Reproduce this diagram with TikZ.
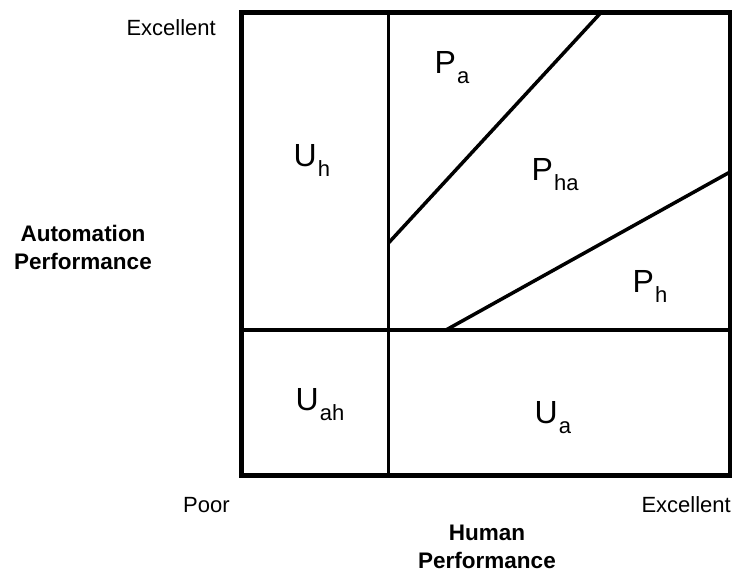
\documentclass[tikz,border=0pt]{standalone}
\usepackage{fontspec}
\setmainfont{Liberation Sans}
\usetikzlibrary{positioning,calc}
\newcommand\regionlab[2]{#1\kern1pt\raisebox{-10pt}{\fontsize{22}{22}\selectfont #2}}

\begin{document}
\begin{tikzpicture}[x=1pt,y=-1pt,
  frame/.style={line width=4.4pt,line join=miter},
  divider/.style={line width=3.5pt},
  region/.style={font=\fontsize{32}{32}\selectfont,inner sep=0pt,anchor=base west},
  scale label/.style={font=\fontsize{22}{22}\selectfont,inner sep=0pt},
  axis title/.style={font=\fontsize{22.5}{28}\selectfont\bfseries,align=center,inner sep=0pt,anchor=base}]
\useasboundingbox (0,0) rectangle (737,573);
% corners of the chart
\coordinate (nw) at (241.5,12.5);
\coordinate (se) at (730,475.5);
\coordinate (midtop) at (388.5,12.5);
\coordinate (midbot) at (388.5,475.5);
\coordinate (left) at (241.5,330);
\coordinate (right) at (730,330);
\coordinate (pa1) at (388.5,243);
\coordinate (pa2) at (601,12.5);
\coordinate (ph1) at (446,330);
\coordinate (ph2) at (730,172);
\draw[divider] (midtop)--(midbot);
\draw[divider] (left)--(right);
\draw[divider] (pa1)--(pa2);
\draw[divider] (ph1)--(ph2);
\draw[frame] (nw) rectangle (se);
% regions
\node[region] (uh) at (293.5,166) {\regionlab{U}{h}};
\node[region] (pa) at (434.5,73) {\regionlab{P}{a}};
\node[region] (pha) at (531.5,180) {\regionlab{P}{ha}};
\node[region] (ph) at (632.5,292) {\regionlab{P}{h}};
\node[region] (uah) at (295.5,410) {\regionlab{U}{ah}};
\node[region] (ua) at (534.5,423) {\regionlab{U}{a}};
% axes
\node[scale label,anchor=base east] (topexc) at (216,35) {Excellent};
\node[scale label,anchor=base west] (poor) at (183,512) {Poor};
\node[scale label,anchor=base east] (rightexc) at (731,512) {Excellent};
\node[axis title] (autoperf) at (83,269) {Automation\\Performance};
\node[axis title] (humperf) at (487,568) {Human\\Performance};
\end{tikzpicture}
\end{document}
